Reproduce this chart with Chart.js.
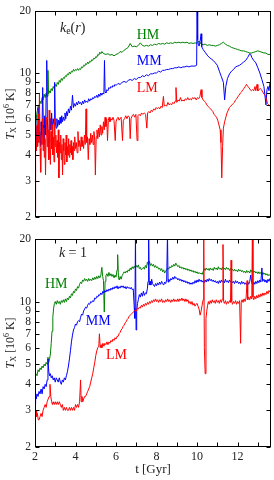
<!DOCTYPE html>
<html><head><meta charset="utf-8">
<script src="https://cdn.jsdelivr.net/npm/chart.js@4/dist/chart.umd.min.js"></script>
<style>
html,body{margin:0;padding:0;background:#fff;width:274px;height:480px;overflow:hidden}
canvas{position:absolute;left:0}
#c1{top:0}
#c2{top:228px}
</style></head>
<body>
<canvas id="c1" width="274" height="228"></canvas>
<canvas id="c2" width="274" height="252"></canvas>
<script>
// ---- axis ticks ----
const yTicks = [2,3,4,5,6,7,8,9,10,20];
const xTicks = [2,3,4,5,6,7,8,9,10,11,12,13];
const xTickLabels = [2,4,6,8,10,12];
const seriesNames = ['HM','MM','LM'];

// ---- top panel: k_e(r) ----
const topHM = [[2.00,5.0],[2.04,5.6],[2.08,6.3],[2.12,6.6],[2.16,7.0],[2.20,6.8],[2.25,7.3],[2.30,7.1],[2.35,7.6],[2.40,7.4],[2.45,7.9],[2.50,7.6],[2.55,8.0],[2.60,7.7],[2.64,10.3],[2.67,7.9],[2.70,8.2],[2.75,8.0],[2.80,8.4],[2.85,8.2],[2.90,8.6],[2.95,8.4],[3.00,8.8],[3.05,8.6],[3.10,9.0],[3.15,8.8],[3.20,9.2],[3.25,9.0],[3.30,9.4],[3.35,9.2],[3.40,9.5],[3.45,9.4],[3.50,9.7],[3.55,9.6],[3.60,9.9],[3.65,9.8],[3.70,10.1],[3.75,9.9],[3.80,10.2],[3.85,10.1],[3.90,10.4],[3.95,10.2],[4.00,10.4],[4.05,10.3],[4.10,10.5],[4.15,10.3],[4.20,10.5],[4.25,10.4],[4.30,10.7],[4.35,10.6],[4.40,10.9],[4.45,10.8],[4.50,11.1],[4.55,11.0],[4.60,11.3],[4.65,11.1],[4.70,11.4],[4.75,11.3],[4.80,11.6],[4.85,11.5],[4.90,11.8],[4.95,11.7],[5.00,12.0],[5.05,11.9],[5.10,12.3],[5.15,12.2],[5.20,12.6],[5.25,12.4],[5.30,12.7],[5.35,12.5],[5.40,12.4],[5.50,12.3],[5.60,12.4],[5.70,12.2],[5.80,12.3],[5.90,12.1],[6.00,12.3],[6.10,12.4],[6.20,12.7],[6.30,12.6],[6.40,12.9],[6.50,13.1],[6.60,13.3],[6.70,13.9],[6.80,13.4],[6.90,13.5],[7.00,13.4],[7.10,13.6],[7.20,14.0],[7.30,13.6],[7.40,13.5],[7.50,13.6],[7.60,13.5],[7.70,13.7],[7.80,13.6],[7.90,13.8],[8.00,13.7],[8.10,13.9],[8.20,13.8],[8.30,13.9],[8.40,13.8],[8.50,14.0],[8.60,13.9],[8.70,14.0],[8.80,13.9],[8.90,14.1],[9.00,14.0],[9.10,14.1],[9.20,14.0],[9.30,14.1],[9.40,14.0],[9.50,14.1],[9.60,13.9],[9.70,14.0],[9.80,13.9],[9.90,14.0],[10.00,13.9],[10.10,14.3],[10.20,13.8],[10.30,13.7],[10.40,13.8],[10.50,13.6],[10.60,13.7],[10.70,13.6],[10.80,13.6],[10.90,13.5],[11.00,13.6],[11.10,13.7],[11.20,13.9],[11.30,14.1],[11.40,13.8],[11.50,13.6],[11.60,13.5],[11.70,13.3],[11.80,13.2],[11.90,13.1],[12.00,13.0],[12.10,12.9],[12.20,12.8],[12.30,12.8],[12.40,12.7],[12.50,12.6],[12.60,12.5],[12.70,12.5],[12.80,12.6],[12.90,12.7],[13.00,12.8],[13.10,12.7],[13.20,12.6],[13.30,12.5],[13.40,12.5],[13.50,12.3],[13.60,12.3],[13.65,12.2]];

const topMM = [[2.00,4.5],[2.03,6.2],[2.06,4.2],[2.10,5.5],[2.13,4.6],[2.16,6.8],[2.20,4.8],[2.23,5.2],[2.27,4.4],[2.30,5.8],[2.34,4.9],[2.38,8.5],[2.41,5.6],[2.44,4.5],[2.48,6.2],[2.52,5.0],[2.55,7.8],[2.58,11.5],[2.61,6.0],[2.65,4.8],[2.68,3.8],[2.71,5.6],[2.75,6.0],[2.78,5.3],[2.82,6.4],[2.86,5.4],[2.90,6.0],[2.94,5.6],[2.97,9.0],[3.00,5.8],[3.04,5.4],[3.08,6.0],[3.12,5.5],[3.16,5.9],[3.20,5.6],[3.24,6.1],[3.28,5.7],[3.32,6.2],[3.36,5.8],[3.40,6.1],[3.44,5.9],[3.48,6.4],[3.52,6.0],[3.56,6.5],[3.60,6.2],[3.65,6.7],[3.70,6.4],[3.75,6.9],[3.80,6.6],[3.85,7.8],[3.90,6.8],[3.95,7.1],[4.00,6.9],[4.05,7.2],[4.10,7.0],[4.15,7.3],[4.20,7.1],[4.25,7.2],[4.30,7.0],[4.35,7.3],[4.40,7.1],[4.45,7.4],[4.50,7.2],[4.55,7.3],[4.60,7.2],[4.65,7.5],[4.70,7.3],[4.75,7.5],[4.80,7.4],[4.85,7.6],[4.90,7.5],[4.95,7.7],[5.00,7.6],[5.05,7.8],[5.10,7.6],[5.15,7.9],[5.20,7.7],[5.25,8.0],[5.30,7.8],[5.35,8.0],[5.40,7.9],[5.43,11.5],[5.46,8.1],[5.50,8.0],[5.55,8.3],[5.60,8.2],[5.65,8.5],[5.70,8.4],[5.75,8.6],[5.80,8.5],[5.85,8.7],[5.90,8.6],[5.95,8.8],[6.00,8.7],[6.10,8.9],[6.20,8.8],[6.30,9.0],[6.40,9.1],[6.50,9.0],[6.60,9.2],[6.70,9.3],[6.80,9.2],[6.90,9.4],[7.00,9.3],[7.10,9.5],[7.20,9.5],[7.30,9.7],[7.40,9.6],[7.50,9.8],[7.60,9.7],[7.70,9.9],[7.80,9.9],[7.90,10.0],[8.00,10.0],[8.10,10.2],[8.20,10.1],[8.30,10.3],[8.40,10.3],[8.50,10.4],[8.60,10.4],[8.70,10.5],[8.80,10.5],[8.90,10.6],[9.00,10.6],[9.10,10.7],[9.20,10.6],[9.30,10.7],[9.40,10.7],[9.50,10.8],[9.60,10.7],[9.70,10.8],[9.80,10.8],[9.90,10.8],[9.98,10.9],[10.00,21],[10.03,14.5],[10.06,13.8],[10.10,13.5],[10.15,14.2],[10.20,15.5],[10.23,13.4],[10.30,13.0],[10.40,12.6],[10.50,12.2],[10.60,11.9],[10.70,11.7],[10.80,11.5],[10.90,11.2],[11.00,10.9],[11.10,10.2],[11.20,9.6],[11.30,9.0],[11.36,7.4],[11.42,8.6],[11.50,9.4],[11.60,9.9],[11.70,10.2],[11.80,10.4],[11.90,10.7],[12.00,10.8],[12.10,10.9],[12.20,11.1],[12.30,11.3],[12.40,11.5],[12.50,11.9],[12.60,12.4],[12.65,12.3],[12.70,11.9],[12.80,11.5],[12.90,11.2],[13.00,10.6],[13.10,10.0],[13.20,9.3],[13.30,8.6],[13.35,7.8],[13.40,7.0],[13.45,8.3],[13.50,8.6],[13.55,8.2],[13.60,9.0],[13.65,9.1]];

const topLM = [[2.00,2.1],[2.02,3.5],[2.04,4.8],[2.07,4.2],[2.10,5.6],[2.13,4.4],[2.16,6.3],[2.19,4.6],[2.22,8.0],[2.25,4.3],[2.28,3.3],[2.31,5.0],[2.34,4.5],[2.37,6.0],[2.40,4.2],[2.43,5.4],[2.46,3.9],[2.49,4.8],[2.52,3.2],[2.55,5.0],[2.58,6.1],[2.61,4.4],[2.64,5.3],[2.67,3.8],[2.70,6.6],[2.73,4.6],[2.76,3.6],[2.79,5.2],[2.82,4.3],[2.85,5.6],[2.88,4.0],[2.91,4.9],[2.94,3.7],[2.97,6.0],[3.00,4.4],[3.03,5.0],[3.06,4.1],[3.09,4.7],[3.12,3.9],[3.15,5.3],[3.18,3.1],[3.21,4.6],[3.24,4.1],[3.27,5.0],[3.30,3.8],[3.33,4.5],[3.36,3.2],[3.39,4.8],[3.42,4.2],[3.45,3.6],[3.48,4.6],[3.51,4.0],[3.54,5.0],[3.57,3.7],[3.60,4.4],[3.63,4.0],[3.66,4.8],[3.69,3.9],[3.72,4.5],[3.75,4.1],[3.78,4.7],[3.81,4.0],[3.84,4.4],[3.87,3.8],[3.90,4.6],[3.93,4.2],[3.96,4.9],[4.00,4.3],[4.04,4.6],[4.08,4.1],[4.12,5.2],[4.16,4.4],[4.20,4.7],[4.24,4.2],[4.28,4.9],[4.32,4.4],[4.36,4.7],[4.40,4.3],[4.44,5.0],[4.48,4.5],[4.52,6.7],[4.55,4.6],[4.59,4.9],[4.63,3.8],[4.67,4.8],[4.71,4.5],[4.75,5.1],[4.79,4.6],[4.83,5.0],[4.87,4.5],[4.91,5.2],[4.95,4.7],[4.98,3.2],[5.02,4.9],[5.06,5.3],[5.10,4.8],[5.14,5.4],[5.18,4.9],[5.22,5.6],[5.26,5.0],[5.30,5.5],[5.34,5.1],[5.38,5.8],[5.42,5.3],[5.46,6.1],[5.50,5.5],[5.54,6.0],[5.58,4.7],[5.62,5.9],[5.66,6.1],[5.70,5.8],[5.75,6.0],[5.80,5.9],[5.85,6.1],[5.90,5.9],[5.96,4.7],[6.00,5.8],[6.05,6.0],[6.10,6.1],[6.15,5.9],[6.20,6.0],[6.25,6.1],[6.32,4.7],[6.36,5.9],[6.42,6.0],[6.48,6.2],[6.54,6.0],[6.60,6.2],[6.66,6.1],[6.70,4.8],[6.74,6.0],[6.80,6.2],[6.86,6.3],[6.92,6.1],[6.98,6.3],[7.04,4.7],[7.08,6.2],[7.14,6.3],[7.20,6.2],[7.26,6.4],[7.32,6.3],[7.40,6.4],[7.46,6.3],[7.52,5.4],[7.56,6.4],[7.62,6.5],[7.68,6.4],[7.74,6.6],[7.80,6.5],[7.86,6.7],[7.92,6.6],[7.98,6.8],[8.04,6.7],[8.10,6.8],[8.16,6.7],[8.22,6.9],[8.28,6.8],[8.34,7.7],[8.38,6.9],[8.44,7.0],[8.50,6.9],[8.56,7.2],[8.62,7.0],[8.68,7.1],[8.74,7.0],[8.80,7.2],[8.86,7.1],[8.92,7.3],[8.96,8.5],[9.00,7.2],[9.06,7.4],[9.12,7.3],[9.18,7.6],[9.24,7.3],[9.30,7.4],[9.36,7.3],[9.42,7.5],[9.48,7.4],[9.54,7.6],[9.60,7.4],[9.66,7.5],[9.72,7.4],[9.78,7.6],[9.84,7.5],[9.90,7.6],[9.96,7.4],[10.02,7.6],[10.08,7.5],[10.14,7.7],[10.20,8.3],[10.24,7.6],[10.30,7.4],[10.36,7.3],[10.42,7.2],[10.48,7.0],[10.54,6.9],[10.60,6.8],[10.66,6.7],[10.72,6.6],[10.78,6.5],[10.84,6.3],[10.90,6.2],[10.96,6.1],[11.02,5.9],[11.08,5.6],[11.14,5.3],[11.18,4.6],[11.22,3.1],[11.26,4.4],[11.30,5.4],[11.36,5.8],[11.42,6.1],[11.48,6.4],[11.54,6.6],[11.60,6.8],[11.66,6.9],[11.72,7.0],[11.78,7.1],[11.84,7.2],[11.90,7.4],[11.96,7.5],[12.02,7.7],[12.08,7.8],[12.14,8.0],[12.20,8.1],[12.26,8.3],[12.32,8.4],[12.38,8.6],[12.44,8.8],[12.50,8.6],[12.56,8.5],[12.62,8.3],[12.68,8.2],[12.74,8.3],[12.80,8.2],[12.86,8.6],[12.90,8.2],[12.96,8.8],[13.00,8.2],[13.06,8.3],[13.12,8.4],[13.18,8.3],[13.24,8.1],[13.30,7.9],[13.36,7.8],[13.42,7.5],[13.48,7.1],[13.54,7.0],[13.60,6.9],[13.65,7.0]];

// ---- bottom panel: k = 1 ----
const botHM = [[2.00,4.3],[2.05,4.5],[2.10,4.4],[2.15,4.7],[2.20,4.6],[2.25,4.8],[2.30,4.7],[2.35,4.9],[2.40,4.8],[2.45,5.0],[2.50,4.9],[2.55,5.1],[2.60,5.0],[2.64,5.4],[2.68,5.1],[2.72,5.3],[2.76,5.6],[2.80,6.3],[2.84,7.2],[2.88,8.4],[2.92,9.3],[2.96,9.8],[3.00,10.0],[3.05,9.7],[3.10,10.1],[3.15,9.8],[3.20,10.0],[3.25,9.7],[3.30,10.1],[3.35,9.9],[3.40,10.2],[3.45,9.9],[3.50,10.3],[3.55,10.0],[3.60,10.4],[3.65,10.2],[3.70,10.6],[3.75,10.4],[3.80,10.9],[3.85,10.7],[3.90,11.2],[3.95,11.0],[4.00,11.5],[4.05,11.3],[4.10,11.8],[4.15,11.6],[4.20,12.1],[4.25,12.4],[4.30,12.2],[4.35,12.7],[4.40,12.5],[4.45,12.9],[4.50,12.6],[4.55,12.8],[4.60,12.5],[4.65,12.9],[4.70,12.6],[4.75,12.8],[4.80,12.6],[4.85,13.0],[4.90,12.7],[4.95,13.1],[5.00,12.8],[5.05,13.2],[5.10,12.9],[5.15,13.3],[5.20,13.0],[5.25,13.4],[5.30,14.6],[5.34,13.2],[5.38,12.6],[5.42,8.9],[5.46,12.5],[5.50,13.3],[5.55,13.6],[5.60,13.2],[5.65,13.8],[5.70,13.3],[5.75,13.6],[5.80,13.2],[5.85,13.5],[5.90,13.0],[5.95,13.4],[6.00,13.1],[6.05,14.2],[6.08,16.8],[6.12,13.0],[6.16,12.7],[6.20,13.2],[6.25,12.8],[6.30,13.3],[6.35,13.6],[6.40,13.9],[6.45,13.7],[6.50,14.0],[6.55,13.8],[6.60,14.2],[6.65,14.0],[6.70,14.5],[6.75,14.2],[6.80,14.7],[6.85,14.4],[6.90,14.8],[6.95,14.5],[7.00,14.9],[7.05,14.6],[7.10,15.0],[7.15,14.4],[7.20,14.6],[7.25,14.2],[7.30,14.4],[7.35,14.6],[7.40,14.3],[7.45,14.9],[7.50,14.5],[7.55,15.5],[7.60,15.0],[7.65,15.6],[7.70,14.9],[7.75,15.2],[7.80,14.8],[7.85,15.1],[7.90,14.6],[7.95,14.9],[8.00,14.5],[8.05,14.7],[8.10,14.3],[8.15,14.5],[8.20,14.1],[8.25,14.4],[8.30,13.9],[8.35,14.2],[8.40,13.7],[8.45,14.0],[8.50,14.2],[8.55,14.5],[8.60,14.3],[8.65,14.7],[8.70,14.5],[8.75,14.9],[8.80,14.7],[8.85,15.1],[8.90,14.8],[8.95,15.3],[9.00,15.0],[9.05,14.7],[9.10,14.9],[9.15,14.5],[9.20,14.7],[9.25,14.4],[9.30,14.6],[9.35,14.3],[9.40,14.5],[9.45,14.2],[9.50,14.4],[9.55,14.1],[9.60,14.3],[9.65,14.0],[9.70,14.2],[9.75,13.9],[9.80,14.1],[9.85,13.8],[9.90,14.0],[9.95,13.7],[10.00,13.9],[10.05,13.6],[10.10,13.8],[10.15,13.6],[10.20,13.7],[10.25,13.5],[10.30,13.9],[10.35,14.4],[10.40,14.1],[10.45,14.5],[10.50,14.2],[10.55,14.4],[10.60,14.1],[10.65,14.5],[10.70,14.2],[10.75,14.4],[10.80,14.1],[10.85,14.6],[10.90,14.3],[10.95,14.5],[11.00,14.2],[11.05,14.7],[11.10,14.3],[11.15,14.5],[11.20,14.2],[11.25,14.6],[11.30,14.3],[11.35,14.5],[11.40,14.2],[11.45,14.6],[11.50,14.3],[11.55,14.5],[11.60,14.1],[11.65,14.4],[11.70,14.1],[11.75,14.3],[11.80,14.0],[11.85,14.3],[11.90,14.0],[11.95,14.2],[12.00,13.9],[12.05,14.3],[12.10,14.0],[12.15,14.2],[12.20,13.9],[12.25,14.1],[12.30,13.8],[12.35,14.0],[12.40,13.7],[12.45,14.1],[12.50,13.8],[12.55,14.0],[12.60,13.7],[12.65,14.2],[12.70,13.9],[12.75,14.1],[12.80,13.8],[12.85,14.0],[12.90,13.7],[12.95,13.9],[13.00,13.6],[13.05,13.9],[13.10,13.6],[13.15,13.8],[13.20,13.5],[13.25,13.8],[13.30,13.5],[13.35,13.7],[13.40,13.4],[13.45,13.6],[13.50,13.3],[13.55,13.5],[13.60,13.3],[13.65,13.2]];

const botMM = [[2.00,3.2],[2.03,3.6],[2.06,3.4],[2.10,3.6],[2.15,3.5],[2.20,3.7],[2.25,3.6],[2.30,3.8],[2.35,3.6],[2.40,3.9],[2.45,3.8],[2.50,4.0],[2.55,3.9],[2.60,4.2],[2.64,5.3],[2.68,4.6],[2.72,4.4],[2.76,4.5],[2.80,4.3],[2.85,4.4],[2.90,4.2],[2.95,4.3],[3.00,4.1],[3.05,4.3],[3.10,4.2],[3.15,4.1],[3.20,4.3],[3.25,4.1],[3.30,4.0],[3.35,4.2],[3.40,4.1],[3.45,4.3],[3.50,4.2],[3.55,4.4],[3.60,4.6],[3.65,4.9],[3.70,5.3],[3.75,5.8],[3.80,6.4],[3.85,6.9],[3.90,7.3],[3.95,7.5],[4.00,7.8],[4.05,7.7],[4.10,8.0],[4.15,8.1],[4.20,8.0],[4.25,8.4],[4.30,8.7],[4.35,8.6],[4.40,9.0],[4.45,9.2],[4.50,9.4],[4.55,9.3],[4.60,9.6],[4.65,9.8],[4.70,9.7],[4.75,10.0],[4.80,9.9],[4.85,10.1],[4.90,10.0],[4.95,10.4],[5.00,10.3],[5.05,10.6],[5.10,10.5],[5.15,10.8],[5.20,10.7],[5.25,11.0],[5.30,10.8],[5.35,11.2],[5.40,11.0],[5.45,11.3],[5.50,11.1],[5.55,11.4],[5.60,11.2],[5.65,11.5],[5.70,11.3],[5.75,11.6],[5.80,11.4],[5.85,11.7],[5.90,11.5],[5.95,11.8],[6.00,11.6],[6.05,11.9],[6.10,11.5],[6.15,11.8],[6.20,11.6],[6.25,11.9],[6.30,11.7],[6.35,11.9],[6.40,11.6],[6.45,11.8],[6.50,11.5],[6.55,11.8],[6.60,11.6],[6.65,11.7],[6.70,11.5],[6.75,11.7],[6.80,11.4],[6.85,11.5],[6.90,9.3],[6.93,8.3],[6.96,21],[6.99,7.3],[7.02,9.0],[7.06,9.8],[7.10,10.2],[7.15,10.8],[7.20,10.5],[7.25,11.0],[7.30,10.6],[7.35,11.2],[7.40,10.7],[7.45,11.0],[7.50,10.9],[7.55,11.6],[7.58,12.5],[7.61,21],[7.64,12.0],[7.68,12.5],[7.72,12.0],[7.76,12.8],[7.80,12.2],[7.85,12.0],[7.90,11.8],[7.95,12.2],[8.00,11.9],[8.05,12.3],[8.10,12.0],[8.15,12.4],[8.20,12.1],[8.25,12.5],[8.30,12.2],[8.35,12.0],[8.40,12.4],[8.45,12.2],[8.50,12.7],[8.54,21],[8.57,12.4],[8.60,12.8],[8.65,12.5],[8.70,12.9],[8.75,12.7],[8.80,13.1],[8.85,12.8],[8.90,13.2],[8.95,12.9],[9.00,13.0],[9.05,12.7],[9.10,12.9],[9.15,12.6],[9.20,12.8],[9.25,12.5],[9.30,12.7],[9.35,12.4],[9.40,12.6],[9.45,12.3],[9.50,12.5],[9.55,12.2],[9.60,12.4],[9.65,12.1],[9.70,12.3],[9.75,12.1],[9.80,12.4],[9.85,12.2],[9.90,12.6],[9.95,12.3],[10.00,12.7],[10.05,12.4],[10.10,12.8],[10.15,12.5],[10.20,12.7],[10.25,12.4],[10.30,12.6],[10.35,12.3],[10.40,12.7],[10.45,12.4],[10.50,12.8],[10.55,12.5],[10.60,12.9],[10.65,12.6],[10.70,12.8],[10.75,12.5],[10.80,12.7],[10.85,12.4],[10.90,12.6],[10.95,12.3],[11.00,12.5],[11.05,12.2],[11.10,12.6],[11.15,12.3],[11.20,12.7],[11.25,12.4],[11.30,12.6],[11.35,12.3],[11.40,12.8],[11.45,12.4],[11.50,12.6],[11.55,12.3],[11.60,12.7],[11.65,12.4],[11.70,12.6],[11.75,12.3],[11.80,12.5],[11.85,12.2],[11.90,12.6],[11.95,12.3],[12.00,12.5],[12.05,12.2],[12.10,12.4],[12.15,12.1],[12.20,12.5],[12.25,12.2],[12.30,12.4],[12.35,12.1],[12.40,12.3],[12.45,12.0],[12.50,12.4],[12.55,12.1],[12.60,12.5],[12.65,13.4],[12.70,12.3],[12.75,12.0],[12.80,12.4],[12.85,12.1],[12.90,12.5],[12.95,12.2],[13.00,12.6],[13.05,12.3],[13.10,12.7],[13.15,12.4],[13.20,14.5],[13.24,12.5],[13.30,12.8],[13.35,12.4],[13.40,12.7],[13.45,12.3],[13.50,12.8],[13.55,12.5],[13.60,12.9],[13.65,12.6]];

const botLM = [[2.00,2.0],[2.02,2.9],[2.05,3.0],[2.08,2.8],[2.12,2.9],[2.16,2.7],[2.20,2.7],[2.25,2.8],[2.30,2.9],[2.35,2.8],[2.40,3.0],[2.45,3.1],[2.50,3.2],[2.55,3.1],[2.60,3.3],[2.65,3.4],[2.70,3.5],[2.74,4.0],[2.78,3.5],[2.82,3.3],[2.86,3.2],[2.90,3.3],[2.95,3.2],[3.00,3.3],[3.05,3.2],[3.10,3.3],[3.15,3.2],[3.20,3.3],[3.25,3.2],[3.30,3.1],[3.35,3.2],[3.40,3.0],[3.45,3.1],[3.50,3.0],[3.55,3.1],[3.60,3.0],[3.65,3.0],[3.70,3.1],[3.75,3.0],[3.80,3.1],[3.85,3.0],[3.90,3.1],[3.95,3.0],[4.00,3.2],[4.05,3.1],[4.10,3.2],[4.15,3.1],[4.20,3.3],[4.25,4.2],[4.28,3.3],[4.32,3.5],[4.36,3.3],[4.40,3.4],[4.45,3.5],[4.50,3.5],[4.55,3.6],[4.60,3.7],[4.65,3.8],[4.70,3.9],[4.75,4.1],[4.80,4.3],[4.85,4.5],[4.90,4.8],[4.95,5.1],[5.00,5.5],[5.05,5.8],[5.10,6.0],[5.15,6.1],[5.18,7.0],[5.22,6.0],[5.26,6.2],[5.30,6.0],[5.35,6.3],[5.40,6.1],[5.45,6.3],[5.50,6.2],[5.55,6.4],[5.60,6.2],[5.65,6.4],[5.70,6.3],[5.75,6.5],[5.80,6.4],[5.85,6.6],[5.90,6.5],[5.95,6.7],[6.00,6.6],[6.05,6.8],[6.10,6.8],[6.15,7.0],[6.20,7.1],[6.25,7.3],[6.30,7.4],[6.35,7.6],[6.40,7.7],[6.45,7.9],[6.50,8.0],[6.55,8.2],[6.60,8.3],[6.65,8.5],[6.70,8.6],[6.75,8.7],[6.80,8.8],[6.85,8.9],[6.90,9.0],[6.95,9.1],[7.00,9.0],[7.05,9.3],[7.10,9.2],[7.15,9.4],[7.20,9.3],[7.25,9.6],[7.30,9.4],[7.35,9.7],[7.40,9.5],[7.45,9.8],[7.50,9.6],[7.55,9.9],[7.60,9.7],[7.65,10.0],[7.70,9.8],[7.75,10.1],[7.80,9.9],[7.85,10.2],[7.90,10.0],[7.95,10.3],[8.00,10.0],[8.05,10.2],[8.10,9.9],[8.15,10.2],[8.20,10.0],[8.25,10.3],[8.30,9.9],[8.35,10.1],[8.40,9.9],[8.45,10.2],[8.50,10.0],[8.55,10.3],[8.60,10.0],[8.65,10.2],[8.70,9.9],[8.75,10.2],[8.80,10.0],[8.85,10.3],[8.90,10.0],[8.95,10.2],[9.00,10.0],[9.05,10.3],[9.10,10.0],[9.15,10.3],[9.20,10.1],[9.25,10.4],[9.30,10.1],[9.35,10.3],[9.40,10.0],[9.45,10.3],[9.50,10.0],[9.55,10.2],[9.60,9.8],[9.65,10.0],[9.70,9.7],[9.75,10.0],[9.80,9.6],[9.85,9.8],[9.90,9.5],[9.95,9.7],[10.00,9.8],[10.05,9.5],[10.10,9.2],[10.15,8.6],[10.20,9.0],[10.25,9.6],[10.30,10.2],[10.33,21],[10.36,6.0],[10.40,4.5],[10.44,8.3],[10.48,9.0],[10.52,9.6],[10.56,10.0],[10.60,9.7],[10.65,10.1],[10.70,9.8],[10.75,10.2],[10.80,9.9],[10.85,10.1],[10.90,9.8],[10.95,10.2],[11.00,9.9],[11.05,10.1],[11.10,9.8],[11.15,10.2],[11.20,9.9],[11.25,10.3],[11.28,18.8],[11.31,10.0],[11.35,9.8],[11.40,10.1],[11.45,9.7],[11.50,10.0],[11.55,9.8],[11.60,10.1],[11.65,9.9],[11.68,15.8],[11.71,10.0],[11.75,9.7],[11.80,10.0],[11.85,9.8],[11.90,10.1],[11.95,9.7],[12.00,10.0],[12.05,9.8],[12.10,10.1],[12.15,6.3],[12.18,9.9],[12.22,10.2],[12.27,9.9],[12.32,10.3],[12.37,10.0],[12.42,10.4],[12.47,12.6],[12.50,10.2],[12.55,10.5],[12.60,10.2],[12.65,10.6],[12.70,10.3],[12.73,21],[12.76,10.5],[12.80,10.2],[12.85,10.6],[12.90,10.3],[12.95,10.7],[13.00,10.4],[13.05,10.8],[13.10,10.5],[13.15,10.9],[13.20,10.6],[13.25,11.0],[13.30,10.7],[13.35,11.0],[13.40,10.8],[13.45,11.2],[13.50,10.9],[13.55,11.3],[13.60,11.1],[13.65,11.5]];

// ---- styling ----
const COL = {HM:'#008000', MM:'#0000ff', LM:'#ff0000'};
const SERIF = '"Liberation Serif", "DejaVu Serif", serif';
const TXT = '#222';

function drawSegments(ctx, segs, x, y, align) {
  let total = 0;
  segs.forEach(s => { ctx.font = s.font; total += ctx.measureText(s.text).width; });
  let cx = align === 'center' ? x - total/2 : x;
  segs.forEach(s => {
    ctx.font = s.font;
    ctx.fillText(s.text, cx, y + (s.dy || 0));
    cx += ctx.measureText(s.text).width;
  });
}

const framePlugin = {
  id: 'frame',
  afterDraw(chart) {
    const ctx = chart.ctx, a = chart.chartArea;
    const xs = chart.scales.x, ys = chart.scales.y;
    const L = Math.round(a.left) + 0.5, R = Math.round(a.right) - 0.5;
    const T = Math.round(a.top) + 0.5, B = Math.round(a.bottom) - 0.5;
    ctx.save();
    ctx.strokeStyle = '#000';
    ctx.lineWidth = 1;
    ctx.strokeRect(L, T, R - L, B - T);
    ctx.beginPath();
    yTicks.forEach(v => {
      const y = Math.round(ys.getPixelForValue(v)) + 0.5;
      ctx.moveTo(L, y); ctx.lineTo(L + 4, y);
      ctx.moveTo(R, y); ctx.lineTo(R - 4, y);
    });
    xTicks.forEach(v => {
      const x = Math.round(xs.getPixelForValue(v)) + 0.5;
      ctx.moveTo(x, T); ctx.lineTo(x, T + 4);
      ctx.moveTo(x, B); ctx.lineTo(x, B - 4);
    });
    ctx.stroke();

    const ann = chart.options.plugins.frame.labels || [];
    ann.forEach(l => {
      ctx.fillStyle = l.color || TXT;
      ctx.textBaseline = 'middle';
      ctx.textAlign = 'left';
      const px = xs.getPixelForValue(l.t), py = ys.getPixelForValue(l.v);
      drawSegments(ctx, l.segs, px, py, 'left');
    });

    // y-axis title
    ctx.fillStyle = TXT;
    ctx.textBaseline = 'middle';
    ctx.textAlign = 'left';
    ctx.translate(11, (a.top + a.bottom) / 2);
    ctx.rotate(-Math.PI / 2);
    drawSegments(ctx, [
      {text:'T', font:'italic 12px ' + SERIF},
      {text:'X', font:'8px ' + SERIF, dy:3},
      {text:' [10', font:'12px ' + SERIF},
      {text:'6', font:'8px ' + SERIF, dy:-4},
      {text:' K]', font:'12px ' + SERIF}
    ], 0, 0, 'center');
    ctx.restore();

    if (chart.options.plugins.frame.xTitle) {
      ctx.save();
      ctx.fillStyle = TXT;
      ctx.textBaseline = 'middle';
      ctx.textAlign = 'left';
      drawSegments(ctx, [{text: chart.options.plugins.frame.xTitle, font:'13px ' + SERIF}],
        (a.left + a.right) / 2, chart.height - 10, 'center');
      ctx.restore();
    }
  }
};

function makeChart(id, series, opts) {
  const datasets = ['LM','MM','HM'].map(name => ({
    label: name,
    data: series[name],
    borderColor: COL[name],
    borderWidth: 1,
    pointRadius: 0,
    tension: 0,
    fill: false
  }));
  return new Chart(document.getElementById(id), {
    type: 'line',
    data: { datasets },
    plugins: [framePlugin],
    options: {
      animation: false,
      responsive: false,
      events: [],
      layout: { padding: { top: opts.padTop, right: 3, left: 0, bottom: 0 } },
      plugins: {
        legend: { display: false },
        tooltip: { enabled: false },
        frame: { labels: opts.labels, xTitle: opts.xTitle }
      },
      scales: {
        x: {
          type: 'linear', min: 2, max: 13.65, bounds: 'data',
          afterBuildTicks: s => { s.ticks = xTicks.map(v => ({ value: v })); },
          afterFit: s => { s.height = opts.xHeight; },
          grid: { display: false, drawTicks: false }, border: { display: false },
          ticks: {
            display: opts.showX, autoSkip: false, maxRotation: 0, padding: 3,
            color: TXT, font: { family: SERIF, size: 12 },
            callback: v => xTickLabels.includes(v) ? String(v) : ''
          }
        },
        y: {
          type: 'logarithmic', min: 2, max: 20, bounds: 'data',
          afterBuildTicks: s => { s.ticks = yTicks.map(v => ({ value: v })); },
          afterFit: s => { s.width = 35; },
          grid: { display: false, drawTicks: false }, border: { display: false },
          ticks: {
            autoSkip: false, padding: 4, color: TXT,
            font: { family: SERIF, size: 11.5 },
            callback: v => String(v)
          }
        }
      }
    }
  });
}

const it = 'italic 14px ' + SERIF, rm = '14px ' + SERIF, sub = '10px ' + SERIF;

makeChart('c1', { HM: topHM, MM: topMM, LM: topLM }, {
  padTop: 8, xHeight: 10, showX: false,
  labels: [
    { t: 3.23, v: 16.4, segs: [{text:'k', font:it}, {text:'e', font:sub, dy:3}, {text:'(', font:rm}, {text:'r', font:it}, {text:')', font:rm}] },
    { t: 7.02, v: 15.3, color: COL.HM, segs: [{text:seriesNames[0], font:rm}] },
    { t: 7.02, v: 11.4, color: COL.MM, segs: [{text:seriesNames[1], font:rm}] },
    { t: 7.02, v: 8.4, color: COL.LM, segs: [{text:seriesNames[2], font:rm}] }
  ]
});

makeChart('c2', { HM: botHM, MM: botMM, LM: botLM }, {
  padTop: 9, xHeight: 33, showX: true, xTitle: 't [Gyr]',
  labels: [
    { t: 3.18, v: 17.0, segs: [{text:'k', font:it}, {text:' = 1', font:rm}] },
    { t: 2.49, v: 12.1, color: COL.HM, segs: [{text:seriesNames[0], font:rm}] },
    { t: 4.51, v: 8.0, color: COL.MM, segs: [{text:seriesNames[1], font:rm}] },
    { t: 5.50, v: 5.5, color: COL.LM, segs: [{text:seriesNames[2], font:rm}] }
  ]
});
</script>
</body></html>
